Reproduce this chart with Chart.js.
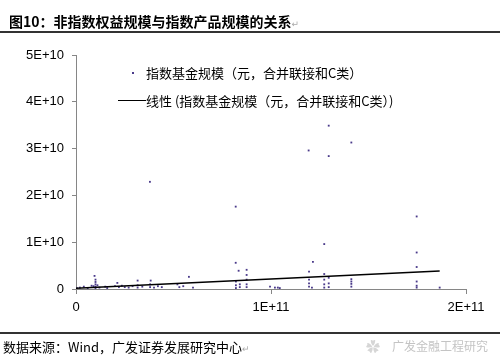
<!DOCTYPE html>
<html><head><meta charset="utf-8">
<script src="https://cdn.jsdelivr.net/npm/chart.js@4/dist/chart.umd.min.js"></script>
<style>
html,body{margin:0;padding:0;background:#fff;width:500px;height:364px;overflow:hidden;}
#wrap{position:relative;width:500px;height:364px;}
#c{position:absolute;left:0;top:0;}
.t{position:absolute;white-space:nowrap;color:#000;}
#title{left:9px;top:11px;font:bold 14px "Noto Sans CJK SC","DejaVu Sans",sans-serif;}
#rule1{position:absolute;left:0;top:31px;width:500px;height:1.5px;background:#333;}
#rule2{position:absolute;left:0;top:332px;width:500px;height:1.5px;background:#333;}
#src{left:3px;top:337px;font:13px "Noto Sans CJK SC",sans-serif;}
#wm{left:392px;top:337px;font:12px "Noto Sans CJK SC",sans-serif;color:#c4c4c4;}
#wmi{left:366px;top:336px;font:14px "Noto Sans CJK SC",sans-serif;color:#d6d6d6;}
.ret{color:#aaa;font-size:9px;font-weight:normal;}
.lg{font:13px "Noto Sans CJK SC",sans-serif;}
#lg1{left:146px;top:63px;}
#lg2{left:146px;top:91px;}
#ldot{position:absolute;left:132px;top:72px;width:2px;height:2px;background:#4a3a8a;}
#lline{position:absolute;left:118px;top:100px;width:28px;height:1.3px;background:#000;}
</style></head>
<body><div id="wrap">
<canvas id="c" width="500" height="364"></canvas>
<div class="t" id="title">图10：非指数权益规模与指数产品规模的关系<span class="ret">↵</span></div>
<div id="rule1"></div>
<div id="rule2"></div>
<div class="t" id="src">数据来源：Wind，广发证券发展研究中心<span class="ret">↵</span></div>
<div class="t" id="wmi">✿</div>
<div class="t" id="wm">广发金融工程研究</div>
<div id="ldot"></div>
<div class="t lg" id="lg1">指数基金规模（元，合并联接和C类）</div>
<div id="lline"></div>
<div class="t lg" id="lg2">线性 (指数基金规模（元，合并联接和C类）)</div>
</div>
<script>
// Data
const fundX = [0.005e11,0.02e11,0.04e11,0.06e11,0.08e11,0.095e11,0.10e11,0.10e11,0.10e11,0.10e11,0.10e11,0.09e11,0.11e11,0.12e11,0.15e11,0.16e11,
 0.212e11,0.20e11,0.22e11,0.235e11,0.25e11,0.27e11,0.29e11,0.316e11,0.316e11,0.316e11,0.34e11,0.379e11,0.383e11,0.38e11,0.38e11,0.40e11,0.42e11,0.44e11,
 0.52e11,0.53e11,0.55e11,0.579e11,0.60e11,0.819e11,0.819e11,0.834e11,0.875e11,0.82e11,0.82e11,0.82e11,0.84e11,0.84e11,0.875e11,0.875e11,0.875e11,0.875e11,
 1.02e11,1.035e11,1.045e11,0.995e11,1.195e11,1.215e11,1.193e11,1.195e11,1.195e11,1.195e11,1.21e11,1.273e11,1.273e11,1.273e11,1.273e11,1.273e11,
 1.296e11,1.296e11,1.296e11,1.296e11,1.296e11,1.412e11,1.412e11,1.412e11,1.412e11,1.412e11,1.747e11,1.747e11,1.747e11,1.747e11,1.747e11,1.747e11,1.865e11];
const fundY = [0.02e10,0.03e10,0.05e10,0.02e10,0.07e10,0.28e10,0.20e10,0.15e10,0.10e10,0.05e10,0.02e10,0.06e10,0.08e10,0.03e10,0.05e10,0.02e10,
 0.13e10,0.06e10,0.04e10,0.07e10,0.04e10,0.03e10,0.06e10,0.18e10,0.08e10,0.03e10,0.05e10,2.29e10,0.18e10,0.10e10,0.04e10,0.03e10,0.06e10,0.04e10,
 0.10e10,0.04e10,0.06e10,0.26e10,0.03e10,1.76e10,0.56e10,0.39e10,0.41e10,0.16e10,0.08e10,0.02e10,0.10e10,0.04e10,0.30e10,0.20e10,0.10e10,0.04e10,
 0.03e10,0.03e10,0.02e10,0.05e10,0.37e10,0.58e10,2.96e10,0.20e10,0.12e10,0.05e10,0.03e10,0.96e10,0.32e10,0.20e10,0.10e10,0.03e10,
 3.49e10,2.84e10,0.24e10,0.12e10,0.04e10,3.13e10,0.21e10,0.16e10,0.11e10,0.05e10,1.55e10,0.78e10,0.47e10,0.16e10,0.07e10,0.03e10,0.03e10];
// Linear trendline endpoints
const trendX = [0, 1.865e11];
const trendY = [0.015e10, 0.385e10];
// Tick labels
const xTickVals = [0, 1e11, 2e11];
const xTickLabels = ["0", "1E+11", "2E+11"];
const yTickVals = [0, 1e10, 2e10, 3e10, 4e10, 5e10];
const yTickLabels = ["0", "1E+10", "2E+10", "3E+10", "4E+10", "5E+10"];

const pts = fundX.map((x, i) => ({x: x, y: fundY[i]}));
const tr = trendX.map((x, i) => ({x: x, y: trendY[i]}));

new Chart(document.getElementById('c'), {
  type: 'scatter',
  data: {
    datasets: [
      {label: '线性', data: tr, showLine: true, borderColor: '#000', borderWidth: 1.4,
       pointRadius: 0, fill: false, order: 0},
      {label: '指数基金规模', data: pts, backgroundColor: '#4a3a8a', borderWidth: 0,
       pointRadius: 1.3, pointStyle: 'rect', order: 1}
    ]
  },
  options: {
    responsive: false, animation: false, devicePixelRatio: 1,
    layout: {padding: {left: 0, top: 55, right: 34, bottom: 45}},
    plugins: {legend: {display: false}, tooltip: {enabled: false}},
    scales: {
      x: {
        type: 'linear', min: 0, max: 2e11,
        afterBuildTicks: s => { s.ticks = xTickVals.map(v => ({value: v})); },
        afterFit: s => { s.height = 30; },
        ticks: {callback: (v) => { const i = xTickVals.indexOf(v); return i >= 0 ? xTickLabels[i] : ''; },
                color: '#000', font: {family: 'Liberation Sans, Arial, sans-serif', size: 13}, padding: 6, maxRotation: 0},
        grid: {drawOnChartArea: false, drawTicks: true, tickLength: 5, color: '#868686'},
        border: {display: true, color: '#868686', width: 1}
      },
      y: {
        type: 'linear', min: 0, max: 5e10,
        afterBuildTicks: s => { s.ticks = yTickVals.map(v => ({value: v})); },
        afterFit: s => { s.width = 76; },
        ticks: {callback: (v) => { const i = yTickVals.indexOf(v); return i >= 0 ? yTickLabels[i] : ''; },
                color: '#000', font: {family: 'Liberation Sans, Arial, sans-serif', size: 13}, padding: 8},
        grid: {drawOnChartArea: false, drawTicks: true, tickLength: 4, color: '#868686'},
        border: {display: true, color: '#868686', width: 1}
      }
    }
  }
});
</script>
</body></html>
